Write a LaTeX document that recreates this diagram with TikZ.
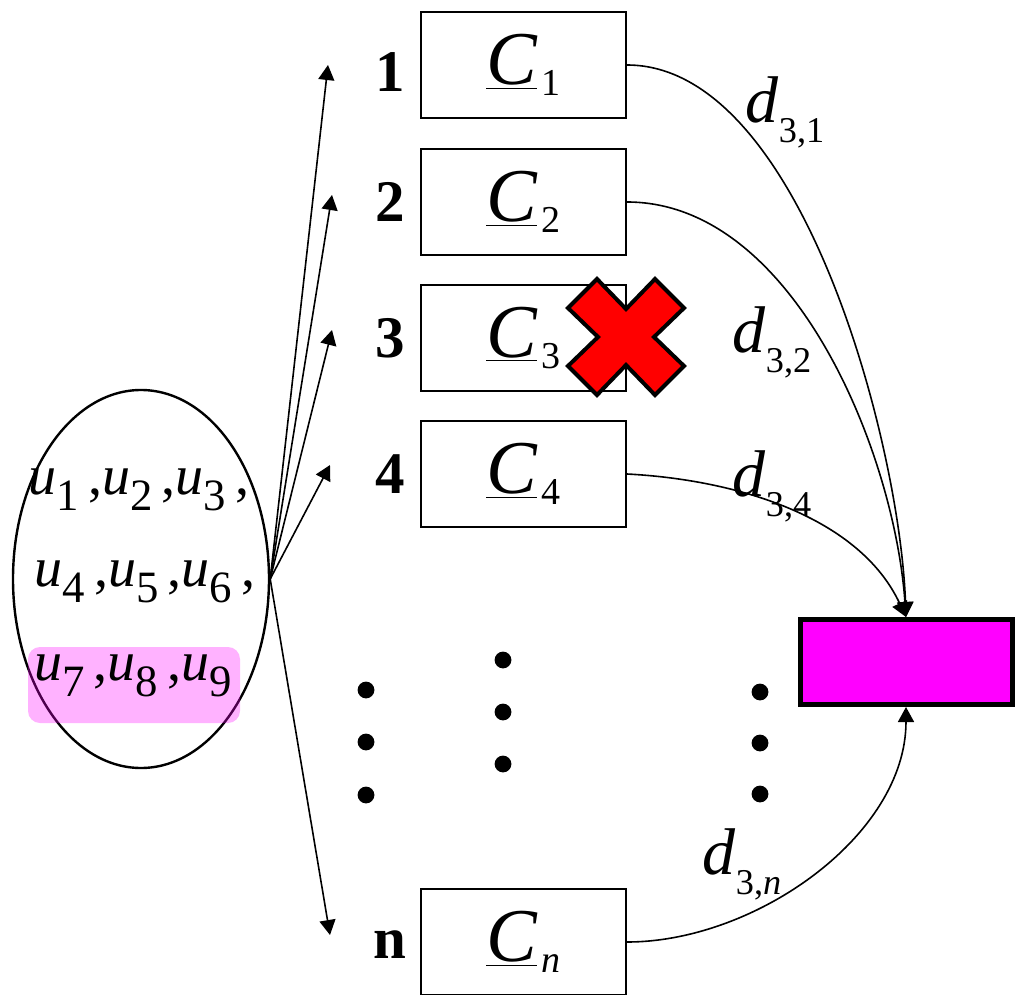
\documentclass[tikz,border=0pt]{standalone}
\usepackage{fontspec}
\setmainfont{Liberation Serif}
\usetikzlibrary{arrows.meta,shapes.geometric}
\definecolor{sinkpink}{RGB}{255,0,255}
\newcommand{\ulab}[2]{\textit{#1}\raisebox{-0.28em}{\scalebox{0.8}{#2}}}
\newcommand{\clab}[1]{\underline{\textit{C}}\kern0.06em\raisebox{-0.15em}{\scalebox{0.5}{#1}}}
\newcommand{\dlab}[1]{\textit{d}\raisebox{-0.3em}{\scalebox{0.55}{#1}}}

\begin{document}
\begin{tikzpicture}[x=0.5pt,y=-0.5pt,
    cbox/.style={draw,line width=1pt,minimum width=102.5pt,minimum height=53pt,inner sep=0pt,font=\fontsize{38}{40}\selectfont},
    numlab/.style={font=\fontsize{29.5}{32}\selectfont\bfseries},
    dist/.style={font=\fontsize{33}{36}\selectfont},
    urow/.style={font=\fontsize{28}{30}\selectfont,inner sep=0pt},
    link/.style={-{Triangle[length=7.5pt,width=8pt]},line width=0.8pt}]
    \useasboundingbox (0,0) rectangle (1018,995);

    % user pool
    \node[draw,ellipse,line width=1.2pt,minimum width=128pt,minimum height=189pt] (pool) at (141,579) {};
    \node[fill=sinkpink,fill opacity=0.3,rounded corners=6pt,minimum width=106pt,minimum height=38pt] (hl) at (134,685) {};
    \node[urow] (row1) at (139,490) {\ulab{u}{1}\,,\ulab{u}{2}\,,\ulab{u}{3}\,,};
    \node[urow] (row2) at (145,582) {\ulab{u}{4}\,,\ulab{u}{5}\,,\ulab{u}{6}\,,};
    \node[urow] (row3) at (133,676) {\ulab{u}{7}\,,\ulab{u}{8}\,,\ulab{u}{9}};

    % clusters
    \node[cbox] (c1) at (523.5,65) {\clab{1}};
    \node[cbox] (c2) at (523.5,202) {\clab{2}};
    \node[cbox] (c3) at (523.5,338) {\clab{3}};
    \node[cbox] (c4) at (523.5,474) {\clab{4}};
    \node[cbox] (cn) at (523.5,942) {\clab{\textit{n}}};

    \node[numlab] (n1) at (390,72) {1};
    \node[numlab] (n2) at (390,202) {2};
    \node[numlab] (n3) at (390,338) {3};
    \node[numlab] (n4) at (390,474) {4};
    \node[numlab] (nn) at (390,945) {n};

    \coordinate (t1) at (328,65);
    \coordinate (t2) at (332,195);
    \coordinate (t3) at (332,330);
    \coordinate (t4) at (330,465);
    \coordinate (tn) at (330,935);
    \foreach \t in {t1,t2,t3,t4,tn}
        \draw [link] (pool.east) -- (\t);

    % sink
    \node[draw,line width=2.5pt,fill=sinkpink,minimum width=106pt,minimum height=42.5pt] (sink) at (906,662) {};

    \draw [link] (c1.east) to[out=0,in=92,looseness=0.72] (sink.north);
    \draw [link] (c2.east) to[out=0,in=94,looseness=0.85] (sink.north);
    \draw [link] (c4.east) to[out=-3,in=115,looseness=0.9] (sink.north);
    \draw [link] (cn.east) to[out=0,in=-90,looseness=0.9] (sink.south);

    \node[dist] (d1) at (785,112) {\dlab{3,1}};
    \node[dist] (d2) at (772,342) {\dlab{3,2}};
    \node[dist] (d4) at (772,486) {\dlab{3,4}};
    \node[dist] (dn) at (742,864) {\dlab{3,\textit{n}}};

    % dropped cluster
    \draw[fill=red,line width=2pt,line join=miter,shift={(626,337)}]
        (-29,-58) -- (0,-28) -- (29,-58) -- (58,-29) -- (28,0) -- (58,29)
        -- (29,58) -- (0,28) -- (-29,58) -- (-58,29) -- (-28,0) -- (-58,-29) -- cycle;

    % ellipsis dots
    \foreach \x/\y in {366/690,366/742,366/795,503/660,503/712,503/764,760/692,760/743,760/794}
        \fill (\x,\y) circle (4.2pt);
\end{tikzpicture}
\end{document}
